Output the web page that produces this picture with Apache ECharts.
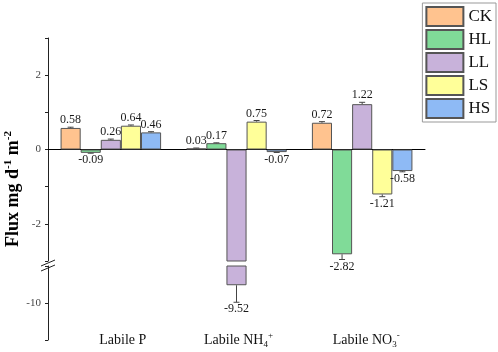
<!DOCTYPE html>
<html><head><meta charset="utf-8">
<script src="https://cdn.jsdelivr.net/npm/echarts@6/dist/echarts.min.js"></script>
<style>html,body{margin:0;padding:0;background:#fff}#c{width:498px;height:352px}</style>
</head><body><div id="c"></div>
<script>
const categories = ['Labile P', 'Labile NH4+', 'Labile NO3-'];
const seriesNames = ['CK', 'HL', 'LL', 'LS', 'HS'];
const CK = [0.58, 0.03, 0.72];
const HL = [-0.09, 0.17, -2.82];
const LL = [0.26, -9.52, 1.22];
const LS = [0.64, 0.75, -1.21];
const HS = [0.46, -0.07, -0.58];
const errCK = [0.02, 0.01, 0.03];
const errHL = [0.01, 0.01, 0.14];
const errLL = [0.02, 0.46, 0.05];
const errLS = [0.02, 0.03, 0.06];
const errHS = [0.02, 0.01, 0.02];
const upperRange = [-3, 3];
const lowerRange = [-11, -9];
const upperTickLabels = [-2, 0, 2];
const lowerTickLabels = [-10];

const values = [CK, HL, LL, LS, HS];
const errors = [errCK, errHL, errLL, errLS, errHS];
const colors = ['#FFC38F', '#80DB98', '#C8B2DA', '#FFFF99', '#8EBAF5'];
const FONT = '"Liberation Serif", "Times New Roman", serif';

const chart = echarts.init(document.getElementById('c'), null, {renderer: 'canvas'});

function errRender(si, range) {
  return function (params, api) {
    const ci = api.value(0), v = api.value(1), e = api.value(2);
    if (range === upperRange && v < range[0]) return null;
    if (range === lowerRange && v > range[1]) return null;
    const end = v >= 0 ? v + e : v - e;
    const c0 = api.coord([ci, v]);
    const c1 = api.coord([ci, end]);
    const bw = api.size([1, 0])[0];
    const x = c0[0] + (si - 2) * bw * 0.8 / 5;
    const pos = v >= 0;
    return {
      type: 'group',
      children: [
        {type: 'line', shape: {x1: x, y1: c0[1], x2: x, y2: c1[1]}, style: {stroke: '#444', lineWidth: 1}},
        {type: 'line', shape: {x1: x - 3, y1: c1[1], x2: x + 3, y2: c1[1]}, style: {stroke: '#444', lineWidth: 1}},
        {type: 'text', x: x, y: pos ? c1[1] - 1 : c1[1] + 1,
          style: {text: v.toFixed(2), fill: '#1a1a1a', fontSize: 12, fontFamily: FONT,
            align: 'center', verticalAlign: pos ? 'bottom' : 'top'}}
      ]
    };
  };
}

const series = [];
[0, 1].forEach(function (g) {
  seriesNames.forEach(function (name, si) {
    series.push({
      name: name, type: 'bar', xAxisIndex: g, yAxisIndex: g,
      data: values[si], barGap: 0, barCategoryGap: '20%', clip: true,
      itemStyle: {color: colors[si], borderColor: '#555', borderWidth: 1},
      emphasis: {disabled: true}, animation: false
    });
  });
});
[0, 1].forEach(function (g) {
  seriesNames.forEach(function (name, si) {
    series.push({
      type: 'custom', xAxisIndex: g, yAxisIndex: g, clip: false, z: 5,
      renderItem: errRender(si, g === 0 ? upperRange : lowerRange),
      data: values[si].map(function (v, ci) { return [ci, v, errors[si][ci]]; }),
      animation: false, silent: true
    });
  });
});

const catLabel = {
  show: true, interval: 0, hideOverlap: false, margin: -11, color: '#111', fontSize: 14, fontFamily: FONT,
  lineHeight: 22,
  formatter: function (v) {
    if (v === 'Labile NH4+') return '{n|Labile NH}{sub|4}{sup|+}';
    if (v === 'Labile NO3-') return '{n|Labile NO}{sub|3}{sup|-}';
    return '{n|' + v + '}';
  },
  rich: {
    n: {fontSize: 14, fontFamily: FONT, color: '#111', lineHeight: 22},
    sub: {fontSize: 9, fontFamily: FONT, color: '#111', lineHeight: 12, padding: [9, 0, 0, 0]},
    sup: {fontSize: 9, fontFamily: FONT, color: '#111', lineHeight: 12, padding: [0, 0, 9, 0]}
  }
};

const yLabel = function (list) {
  return {
    color: '#444', fontSize: 11, fontFamily: FONT, margin: 7,
    formatter: function (v) { return list.indexOf(v) >= 0 ? String(v) : ''; }
  };
};

chart.setOption({
  animation: false,
  backgroundColor: '#fff',
  legend: {
    data: seriesNames, orient: 'vertical', right: 2, top: 3,
    itemWidth: 37, itemHeight: 19, itemGap: 2, itemTextGap: 5,
    padding: [3, 4, 3, 3], borderColor: '#999', borderWidth: 1, backgroundColor: '#fff',
    icon: 'rect', selectedMode: false,
    textStyle: {fontSize: 17, fontFamily: FONT, color: '#111'}
  },
  grid: [
    {left: 48, right: 73, top: 38, height: 223},
    {left: 48, right: 73, top: 266, height: 74}
  ],
  xAxis: [
    {type: 'category', gridIndex: 0, data: categories,
      axisLine: {onZero: true, lineStyle: {color: '#000', width: 1}},
      axisTick: {show: false}, axisLabel: {show: false}},
    {type: 'category', gridIndex: 1, data: [
        {value: categories[0], textStyle: {padding: [0, 0, 0, 24]}},
        {value: categories[1], textStyle: {padding: [0, 0, 0, 4]}},
        {value: categories[2], textStyle: {padding: [0, 0, 0, 8]}}],
      axisLine: {show: false}, axisTick: {show: false}, axisLabel: catLabel}
  ],
  yAxis: [
    {type: 'value', gridIndex: 0, min: upperRange[0], max: upperRange[1], interval: 1,
      axisLine: {show: true, onZero: false, lineStyle: {color: '#222'}},
      axisTick: {show: true, length: 3, lineStyle: {color: '#222'}},
      splitLine: {show: false}, axisLabel: yLabel(upperTickLabels)},
    {type: 'value', gridIndex: 1, min: lowerRange[0], max: lowerRange[1], interval: 1,
      axisLine: {show: true, onZero: false, lineStyle: {color: '#222'}},
      axisTick: {show: true, length: 3, lineStyle: {color: '#222'}},
      splitLine: {show: false}, axisLabel: yLabel(lowerTickLabels)}
  ],
  graphic: [
    {type: 'text', x: 13, y: 189, rotation: Math.PI / 2,
      style: {text: '{a|Flux mg d}{s|-1}{a| m}{s|-2}', align: 'center', verticalAlign: 'middle',
        rich: {
          a: {fontSize: 18, fontWeight: 'bold', fontFamily: FONT, fill: '#000'},
          s: {fontSize: 11, fontWeight: 'bold', fontFamily: FONT, fill: '#000', padding: [0, 0, 10, 0]}
        }}},
    {type: 'line', shape: {x1: 41, y1: 266, x2: 55, y2: 260}, style: {stroke: '#222', lineWidth: 1}},
    {type: 'line', shape: {x1: 41, y1: 271, x2: 55, y2: 265}, style: {stroke: '#222', lineWidth: 1}}
  ],
  series: series
});
</script></body></html>
